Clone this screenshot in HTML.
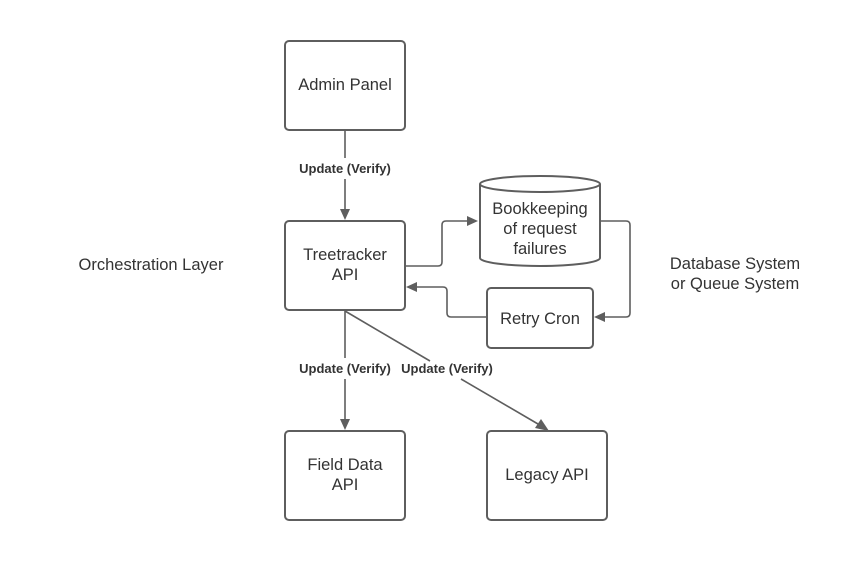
<!DOCTYPE html>
<html><head><meta charset="utf-8"><style>
html,body{margin:0;padding:0;background:#fff;}
svg{display:block;}
text{font-family:"Liberation Sans",sans-serif;fill:#333;}
.n{font-size:16.5px;text-anchor:middle;}
.l{font-size:13px;font-weight:bold;text-anchor:middle;}
.b{fill:#fff;stroke:#5e5e5e;stroke-width:2;}
.c{fill:none;stroke:#5e5e5e;stroke-width:1.6;}
.a{fill:#5e5e5e;}
</style></head><body>
<svg width="844" height="581" viewBox="0 0 844 581">
<rect class="b" x="285" y="41" width="120" height="89" rx="4"/>
<rect class="b" x="285" y="221" width="120" height="89" rx="4"/>
<rect class="b" x="285" y="431" width="120" height="89" rx="4"/>
<rect class="b" x="487" y="431" width="120" height="89" rx="4"/>
<rect class="b" x="487" y="288" width="106" height="60" rx="4"/>
<path class="b" d="M480 184 A60 8 0 0 1 600 184 L600 258 A60 8 0 0 1 480 258 Z"/>
<path class="b" d="M480 184 A60 8 0 0 0 600 184" fill="none"/>
<path class="c" d="M345 130 V158 M345 179 V210"/>
<polygon class="a" points="340,209 350,209 345,220"/>
<path class="c" d="M405 266 H438 Q442 266 442 262 V225 Q442 221 446 221 H468"/>
<polygon class="a" points="467,216 467,226 478,221"/>
<path class="c" d="M600 221 H626 Q630 221 630 225 V313 Q630 317 626 317 H605"/>
<polygon class="a" points="605,312 605,322 594,317"/>
<path class="c" d="M487 317 H451 Q447 317 447 313 V291 Q447 287 443 287 H417"/>
<polygon class="a" points="417,282 417,292 406,287"/>
<path class="c" d="M345 310 V358 M345 379 V420"/>
<polygon class="a" points="340,419 350,419 345,430"/>
<path class="c" d="M345 311 L430 361 M461 379 L538 424"/>
<polygon class="a" points="535,428 541,419 549,431"/>
<text class="l" x="345" y="173">Update (Verify)</text>
<text class="l" x="345" y="373">Update (Verify)</text>
<text class="l" x="447" y="373">Update (Verify)</text>
<text class="n" x="345" y="90">Admin Panel</text>
<text class="n" x="345" y="260">Treetracker</text>
<text class="n" x="345" y="280">API</text>
<text class="n" x="540" y="214">Bookkeeping</text>
<text class="n" x="540" y="234">of request</text>
<text class="n" x="540" y="254">failures</text>
<text class="n" x="540" y="324">Retry Cron</text>
<text class="n" x="345" y="470">Field Data</text>
<text class="n" x="345" y="490">API</text>
<text class="n" x="547" y="480">Legacy API</text>
<text class="n" x="151" y="270">Orchestration Layer</text>
<text class="n" x="735" y="269">Database System</text>
<text class="n" x="735" y="289">or Queue System</text>
</svg>
</body></html>
